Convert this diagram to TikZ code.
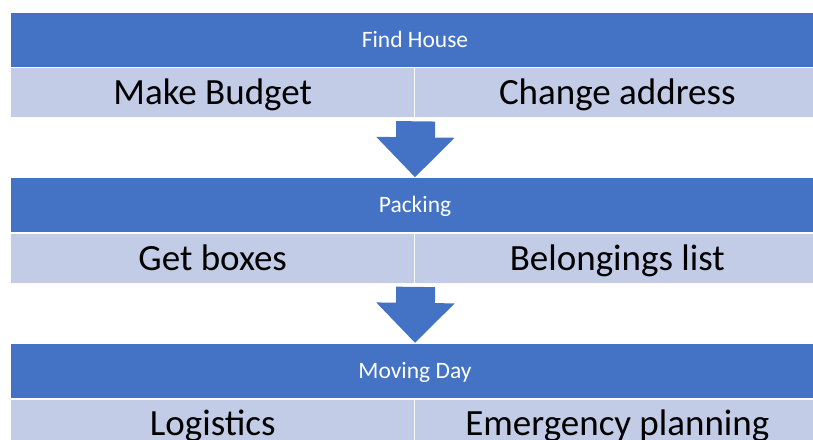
\documentclass[tikz,border=0pt]{standalone}
\usepackage{fontspec}
\setmainfont{Carlito}
\usepackage{xcolor}
\usetikzlibrary{positioning,arrows.meta}

\definecolor{stageblue}{RGB}{68,114,196}
\definecolor{taskblue}{RGB}{194,204,231}

\begin{document}
\begin{tikzpicture}[
    x=1pt, y=-1pt,
    node distance = 110pt,
    stage/.style = {rectangle, fill=stageblue, draw=white, line width=0.6pt,
        minimum width=810pt, minimum height=55pt, inner sep=0pt,
        text=white, font=\fontsize{23.5}{26}\selectfont,
        text height=15pt, text depth=0pt},
    task/.style = {rectangle, fill=taskblue, draw=white!92!taskblue, line width=1pt,
        minimum width=405pt, minimum height=50pt, inner sep=0pt,
        text=black, font=\fontsize{37}{40}\selectfont,
        text height=23.5pt, text depth=0pt},
    flow/.style = {stageblue, line width=39pt,
        -{Triangle[length=40pt, width=76pt]}, shorten <=3pt}
]
\useasboundingbox (0,0) rectangle (813,439);

\node[stage] (house) at (415,39.5) {Find House};
\node[task, anchor=north west] (budget) at (house.south west) {Make Budget};
\node[task, anchor=north east] (address) at (house.south east) {Change address};

\node[stage, below=of house] (packing) {Packing};
\node[task, anchor=north west] (boxes) at (packing.south west) {Get boxes};
\node[task, anchor=north east] (list) at (packing.south east) {Belongings list};

\node[stage, below=of packing] (moving) {Moving Day};
\node[task, anchor=north west] (logistics) at (moving.south west) {Logistics};
\node[task, anchor=north east] (emergency) at (moving.south east) {Emergency planning};

\draw[flow] (budget.south east) -- (packing.north);
\draw[flow] (boxes.south east) -- (moving.north);

\end{tikzpicture}
\end{document}
